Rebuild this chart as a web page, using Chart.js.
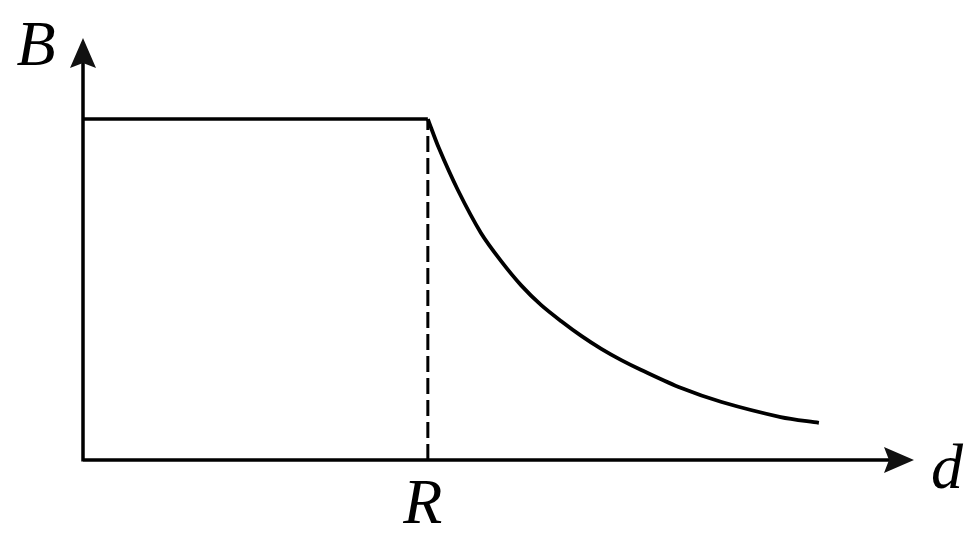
<!DOCTYPE html>
<html>
<head>
<meta charset="utf-8">
<script src="https://cdn.jsdelivr.net/npm/chart.js@4"></script>
<style>
  html, body { margin: 0; padding: 0; background: #fff; }
</style>
</head>
<body>
<canvas id="myChart" width="975" height="536"></canvas>
<script>
let ctx = document.getElementById('myChart').getContext('2d');

// field inside and outside, d in units of R, B in units of the inner value
let plateauD = [0, 1];
let plateauB = [1, 1];
let decayD = [1, 1.032, 1.087, 1.154, 1.212, 1.270, 1.328, 1.387, 1.445, 1.503, 1.561, 1.619, 1.735, 1.852, 2.023, 2.134];
let decayB = [1, 0.915, 0.792, 0.666, 0.584, 0.513, 0.455, 0.407, 0.364, 0.326, 0.293, 0.264, 0.211, 0.170, 0.126, 0.109];
let radiusD = 1;
let yLabel = 'B';
let xLabel = 'd';
let radiusLabel = 'R';

let labelFont = 'italic 64px "Liberation Serif", "Times New Roman", serif';

let toPoints = (xs, ys) => xs.map((x, i) => ({ x: x, y: ys[i] }));

// axes with arrow heads plus the letters
let axesPlugin = {
    id: 'axesArrows',
    beforeDatasetsDraw(chart) {
        let c = chart.ctx;
        let xs = chart.scales.x, ys = chart.scales.y;
        let x0 = xs.getPixelForValue(0), y0 = ys.getPixelForValue(0);
        let xEnd = xs.right + 2, yEnd = ys.top - 2;
        c.save();
        c.strokeStyle = '#000';
        c.fillStyle = '#111';
        c.lineWidth = 3.5;
        c.beginPath();
        c.moveTo(x0, y0);
        c.lineTo(xEnd - 20, y0);
        c.moveTo(x0, y0 + 1.5);
        c.lineTo(x0, yEnd + 20);
        c.stroke();
        // x arrow
        c.beginPath();
        c.moveTo(xEnd, y0);
        c.lineTo(xEnd - 30, y0 - 13);
        c.lineTo(xEnd - 25, y0);
        c.lineTo(xEnd - 30, y0 + 13);
        c.closePath();
        c.fill();
        // y arrow
        c.beginPath();
        c.moveTo(x0, yEnd);
        c.lineTo(x0 - 13, yEnd + 30);
        c.lineTo(x0, yEnd + 25);
        c.lineTo(x0 + 13, yEnd + 30);
        c.closePath();
        c.fill();

        c.fillStyle = '#000';
        c.font = labelFont;
        c.textAlign = 'center';
        c.textBaseline = 'alphabetic';
        c.fillText(yLabel, x0 - 47, yEnd + 27);
        c.fillText(xLabel, xEnd + 33, y0 + 28);
        c.fillText(radiusLabel, xs.getPixelForValue(radiusD) - 5, y0 + 63);
        c.restore();
    }
};

function draw() {
    new Chart(ctx, {
        type: 'scatter',
        data: {
            datasets: [{
                    label: 'inside',
                    data: toPoints(plateauD, plateauB),
                    showLine: true,
                    borderColor: '#000',
                    borderWidth: 3.5,
                    pointRadius: 0
                },
                {
                    label: 'outside',
                    data: toPoints(decayD, decayB),
                    showLine: true,
                    borderColor: '#000',
                    borderWidth: 3.8,
                    pointRadius: 0,
                    tension: 0.3
                },
                {
                    label: 'R mark',
                    data: toPoints([radiusD, radiusD], [0, plateauB[1]]),
                    showLine: true,
                    borderColor: '#000',
                    borderWidth: 3,
                    borderDash: [16, 6],
                    pointRadius: 0
                }
            ]
        },
        options: {
            responsive: false,
            animation: false,
            layout: { padding: { left: 83, top: 40, right: 63, bottom: 76 } },
            plugins: { legend: { display: false }, tooltip: { enabled: false } },
            scales: {
                x: { type: 'linear', display: false, min: 0, max: 2.404 },
                y: { type: 'linear', display: false, min: 0, max: 1.232 }
            }
        },
        plugins: [axesPlugin]
    });
}

document.fonts.load(labelFont, 'BdR').then(draw, draw);
</script>
</body>
</html>
